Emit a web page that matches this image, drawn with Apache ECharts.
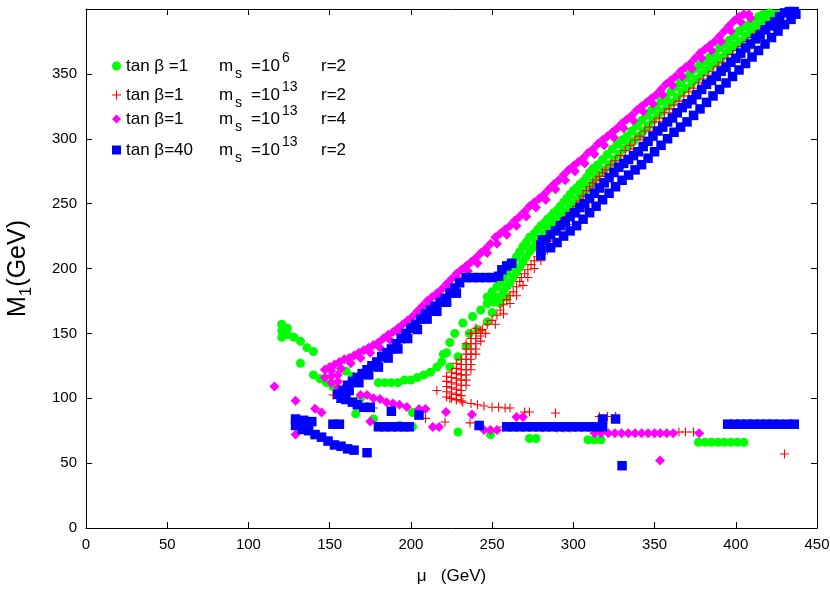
<!DOCTYPE html>
<html>
<head>
<meta charset="utf-8">
<script src="https://cdn.jsdelivr.net/npm/echarts@6/dist/echarts.min.js"></script>
<style>html,body{margin:0;padding:0;background:#fff}#c{width:830px;height:610px}</style>
</head>
<body>
<div id="c"></div>
<script>
// ---------- axis ticks ----------
const xTicks = [0, 50, 100, 150, 200, 250, 300, 350, 400, 450];
const yTicks = [0, 50, 100, 150, 200, 250, 300, 350, 400];

// ---------- series names ----------
const seriesNames = ['tb1_ms6_r2', 'tb1_ms13_r2', 'tb1_ms13_r4', 'tb40_ms13_r2'];

// ---------- green: tan b=1, m_s=10^6, r=2 ----------
const greenLow = [[120.5,157],[120.5,152],[120.5,147],[124,154],[124,149],[128,147],[132,144],[136,139],[140,136],[132,127],[140,118],[144,115],[148,112],[152,109],
[160,121],[164,117],[169,100],[166,88],[177,84],[193,79],[201,78],[201,89],[229,74],[249,72],[273,69],[277,69],[309,68],[313,68],[317,68],
[377,66],[381,66],[385,66],[389,66],[393,66],[397,66],[401,66],[405,66]];
const greenU = [[180,112],[184,112],[188,112],[192,112],[196,114],[200,114],[204,116],[208,118],[212,120],[216,124],[219,128],[220,134],[222,135],[224,143],[227,150],[232,158],[238,163],[243,168],[247,173],[250,178],
[224,124],[229,132],[234,140],[236,150],[241,153],[247,159],[250,166],[255,173],[259,178]];
const greenBandA = [[247,178],[250,182],[253,186],[255,190],[257,193],[259,197],[261,201],[263,205],[265,209],[267,213],[269,217],[271,220],[273,224],[276,227],[278,230],[280,233],[282,235],[284,238],[286,240],[288,243],[290,245],[292,248],[294,251],[296,254],[298,257],[300,260],[302,262],[304,265],[306,267],[308,270],[310,274],[312,277],[315,280],[318,284],[321,288],[324,292],[327,296],[330,299],[333,302],[336,306],[339,310],[342,314],[345,318],[348,322],[351,325],[354,329],[357,332],[360,336],[363,340],[366,343],[369,347],[372,350],[375,354],[378,357],[381,360],[384,363],[387,366],[390,370],[393,373],[396,376],[399,379],[402,383],[405,386],[408,388],[411,391],[414,394],[417,396],[421,397],[425,396],[426,389]];
const greenBandB = [[251,174],[254,178],[257,182],[259,186],[261,189],[263,193],[265,197],[267,201],[269,205],[271,209],[273,213],[275,216],[277,220],[280,223],[282,226],[284,229],[286,231],[288,234],[290,236],[292,239],[294,241],[296,244],[298,247],[300,250],[302,253],[304,256],[306,258],[308,261],[310,263],[312,266],[314,270],[316,273],[319,276],[322,280],[325,284],[328,288],[331,292],[334,295],[337,298],[340,302],[343,306],[346,310],[349,314],[352,318],[355,321],[358,325],[361,328],[364,332],[367,336],[370,339],[373,343],[376,346],[379,350],[382,353],[385,356],[388,359],[391,362],[394,366],[397,369],[400,372],[403,375],[406,379],[409,382],[412,384],[415,387],[418,390],[421,392]];

// ---------- red: tan b=1, m_s=10^13, r=2 ----------
const redGrid = [[216,106],
[222,101],[222,105],[222,109],[222,113],[222,117],
[225,100],[225,104],[225,108],[225,112],[225,116],[225,120],
[228,99],[228,103],[228,107],[228,111],[228,115],[228,119],[228,123],[228,127],
[231,98],[231,102],[231,106],[231,110],[231,114],[231,118],[231,122],[231,126],[231,130],
[234,110],[234,114],[234,118],[234,122],[234,126],[234,130],[234,134],[234,138],[234,142],
[237,122],[237,126],[237,130],[237,134],[237,138],[237,142],[237,146],[237,150],
[240,134],[240,138],[240,142],[240,146],[240,150],[240,154],
[243,144],[243,148],[243,152]];
const redTail = [[224,100],[228,98.7],[232,97],[237,96],[241,95],[245,94],[250,93],[254,93],[258,92.5],[261,92.5],[270,89.4],[273,89.4],[289,88.6],
[152,102.5],[177,92.5],[209,84.5],[221,81.7],[236.4,81],[257,77.8],[316,86],[321,86],[326,86],[290,77],[294,77],[298,77],[365,74],[369,74],[374,74],[430,57]];
const redBandA = [[244,153],[247,157],[250,160],[253,164],[255,168],[257,172],[259,176],[261,179],[263,182],[265,186],[267,190],[268,193],[270,196],[272,199],[274,203],[276,206],[278,209],[280,213],[282,217],[284,221],[286,224],[288,227],[290,231],[292,234],[294,237],[296,240],[298,243],[300,245],[302,248],[304,252],[306,256],[308,260],[310,263],[312,266],[314,268],[316,271],[318,274],[320,276],[323,280],[326,283],[329,287],[332,291],[335,295],[338,299],[341,302],[344,306],[347,309],[350,313],[353,316],[356,320],[359,323],[362,326],[365,329],[368,333],[371,336],[374,339],[377,343],[380,346],[383,349],[386,352],[389,356],[392,359],[395,362],[398,365],[401,368],[404,371],[407,375],[410,378],[413,381],[416,384],[419,387],[422,390],[425,393],[428,396]];
const redBandB = [[246,150],[252,157],[257,165],[261,173],[265,179],[269,187],[272,193],[276,200],[280,206],[284,214],[288,221],[292,228],[296,234],[300,240],[304,245],[308,253],[312,260],[316,265],[320,271],[325,277],[331,284],[337,292],[343,299],[349,306],[355,313],[361,320],[367,326],[373,333],[379,340],[385,346],[391,353],[397,359],[403,365],[409,372],[415,378],[421,384],[427,390]];

// ---------- magenta: tan b=1, m_s=10^13, r=4 ----------
const magentaBandA = [[147,122],[150,124],[153,126],[156,128],[159,130],[162,131],[165,133],[168,135],[171,137],[174,139],[177,141],[180,143],[183,146],[186,149],[189,151],[192,154],[195,157],[198,160],[201,163],[204,167],[207,171],[210,175],[213,178],[216,181],[219,184],[222,188],[225,192],[228,196],[231,199],[234,202],[237,205],[240,208],[243,212],[246,215],[249,219],[252,224],[255,227],[258,230],[261,233],[264,237],[267,240],[270,244],[273,248],[276,251],[279,254],[282,257],[285,261],[288,265],[291,268],[294,272],[297,276],[300,279],[303,282],[306,285],[309,289],[312,292],[315,296],[318,299],[321,302],[324,305],[327,308],[330,312],[333,315],[336,318],[339,322],[342,325],[345,328],[348,331],[351,334],[354,338],[357,342],[360,345],[363,348],[366,352],[369,355],[372,358],[375,362],[378,366],[381,369],[384,372],[387,375],[390,379],[393,383],[396,387],[399,391],[402,394],[405,396],[408,396]];
const magentaBandB = [[151,117],[157,123],[163,127],[169,131],[175,135],[181,139],[187,145],[193,150],[199,156],[205,164],[211,171],[217,177],[223,184],[229,192],[235,198],[241,204],[247,212],[253,219],[259,226],[265,233],[271,240],[277,247],[283,253],[289,261],[295,268],[301,275],[307,281],[313,288],[319,295],[325,301],[331,308],[337,314],[343,321],[349,327],[355,334],[361,341],[367,348],[373,354],[379,362],[385,368],[391,375],[397,383],[403,390],[409,393],
[147,116],[151,112],[155,118],[155,113],[155,108],[159,108],[151,121]];
const magentaLow = [[116,109],[129,98],[129,72],[141,92],[145,89],[169,102.5],[173,102.5],[177,100],[181,99.5],[185,97],[189,96],[193,95],[197.5,93.3],[205,91.7],[209,91.7],[221.6,89.4],[237.6,87.5],[213.5,77.8],[217.3,77.8],[245,75.5],[249,75.5],[253,75.5],[265,85.6],[269,85.6],[175,82],
[313,73],[317,73],[321.5,73],[325.6,73],[329.7,73],[333.8,73],[338,73],[342,73],[346,73],[350,73],[353.5,73],[357.5,73],[361.5,73],[377.5,73],[353.4,52]];

// ---------- blue: tan b=40, m_s=10^13, r=2 ----------
const blueLow = [[129,84],[134,83],[139,82],[129,79],[133,76],[137,75],[141,72],[145,70],[149,67],[153,64],[157,63],[161,61],[165,60],[173,58],
[152,80],[156,80],[188,90],[180,78],[184,78],[188,78],[192,78],[196,78],[199,78],[205,87],[242,79],
[259,78],[263,78],[267,78],[271,78],[275,78],[279,78],[283,78],[287,78],[291,78],[295,78],[299,78],[303,78],[307,78],[311,78],[315,78],[318,78],[318,84],[326,84],[330,48],
[395,80],[399,80],[403,80],[407,80],[411,80],[415,80],[419,80],[423,80],[427,80],[432,80],[436,80]];
const blueLeftBand = [[155,103],[157,100],[160,99],[164,97],[167,95],[171,93],[175,93],
[158,106],[161,110],[164,113],[167,116],[170,119],[173,122],[176,125],[179,128],[182,132],[185,135],[188,138],[191,142],[194,146],[197,150],[200,154],[203,157],[206,161],[209,165],[212,168],[215,171],[218,174],[221,177],[224,181],[227,185],[230,189],[234,193],[238,193],[242,193],[246,193],[250,193],[254,194],[256,199],[259,202],[262,204],
[162,106],[168,112],[174,118],[180,124],[186,131],[192,138],[198,146],[204,153],[210,161],[216,167],[222,174],[228,181],
[280,210],[280,214],[280,218],[281,222]];
const blueBandA = [[283,222],[286,226],[289,229],[292,233],[295,236],[298,240],[301,243],[304,247],[307,250],[310,254],[313,258],[316,262],[319,266],[322,270],[325,274],[328,278],[331,281],[334,284],[337,287],[340,290],[343,294],[346,298],[349,302],[352,306],[355,309],[358,313],[361,316],[364,320],[367,324],[370,327],[373,330],[376,334],[379,338],[382,342],[385,345],[388,348],[391,352],[394,355],[397,359],[400,362],[403,366],[406,370],[409,373],[412,377],[415,380],[418,384],[421,387],[424,390],[427,394],[430,397],[433,398],[436,398]];
const blueBandB = [[286,216],[290,220],[294,225],[298,229],[302,233],[306,238],[310,243],[314,248],[318,253],[322,258],[326,263],[330,268],[334,272],[338,276],[342,280],[346,285],[350,290],[354,295],[358,300],[362,305],[366,309],[370,313],[374,318],[378,323],[382,328],[386,333],[390,338],[394,343],[398,348],[402,353],[406,358],[410,363],[414,368],[418,373],[422,378],[426,383],[430,388],[434,392],[437,396]];

const greenPts = greenLow.concat(greenU, greenBandA, greenBandB);
const redPts = redGrid.concat(redTail, redBandA, redBandB);
const magentaPts = magentaBandA.concat(magentaBandB, magentaLow);
const bluePts = blueLow.concat(blueLeftBand, blueBandA, blueBandB);

const FONT = "'Liberation Sans', Arial, Helvetica, sans-serif";
const plusPath = 'path://M4.4,0H5.6V4.4H10V5.6H5.6V10H4.4V5.6H0V4.4H4.4Z';

const legendText = {
  'tb1_ms6_r2':  '{a|tan β =1}{m|m}{s|s}{e|=10}{p|6}{r|r=2}',
  'tb1_ms13_r2': '{a|tan β=1}{m|m}{s|s}{e|=10}{p|13}{r|r=2}',
  'tb1_ms13_r4': '{a|tan β=1}{m|m}{s|s}{e|=10}{p|13}{r|r=4}',
  'tb40_ms13_r2':'{a|tan β=40}{m|m}{s|s}{e|=10}{p|13}{r|r=2}'
};
const rich = {
  a: {fontSize: 17, width: 93, lineHeight: 30, fontFamily: FONT, color: '#000'},
  m: {fontSize: 17, width: 16, fontFamily: FONT, color: '#000'},
  s: {fontSize: 14, width: 16, verticalAlign: 'bottom', fontFamily: FONT, color: '#000'},
  e: {fontSize: 17, width: 31, fontFamily: FONT, color: '#000'},
  p: {fontSize: 14, width: 39, verticalAlign: 'top', fontFamily: FONT, color: '#000'},
  r: {fontSize: 17, fontFamily: FONT, color: '#000'}
};
const legendTops = [51, 80, 104, 135];
const legends = seriesNames.map((n, i) => ({
  data: [n], left: 112, top: legendTops[i], orient: 'vertical', padding: 0,
  itemWidth: 9, itemHeight: 9, itemGap: 0, selectedMode: false,
  formatter: name => legendText[name], textStyle: {rich: rich}
}));

function axisCommon() {
  return {
    axisLine: {show: true, onZero: false, lineStyle: {color: '#000', width: 1}},
    axisTick: {show: true, inside: true, length: 6, lineStyle: {color: '#000'}},
    splitLine: {show: false}
  };
}

const chart = echarts.init(document.getElementById('c'), null, {renderer: 'canvas'});
chart.setOption({
  animation: false,
  backgroundColor: '#fff',
  grid: {left: 86, right: 13, top: 9, bottom: 82, containLabel: false, outerBoundsMode: 'none'},
  legend: legends,
  xAxis: [
    Object.assign({type: 'value', min: xTicks[0], max: xTicks[xTicks.length-1], interval: 50, position: 'bottom',
      axisLabel: {fontSize: 15, color: '#000', fontFamily: FONT, margin: 9},
      name: '{mu|μ}{g|   (GeV)}', nameLocation: 'middle', nameGap: 40,
      nameTextStyle: {rich: {mu: {fontSize: 17, fontFamily: FONT, color: '#000'}, g: {fontSize: 17, fontFamily: FONT, color: '#000'}}}
    }, axisCommon()),
    Object.assign({type: 'value', min: xTicks[0], max: xTicks[xTicks.length-1], interval: 50, position: 'top',
      axisLabel: {show: false}}, axisCommon())
  ],
  yAxis: [
    Object.assign({type: 'value', min: yTicks[0], max: yTicks[yTicks.length-1], interval: 50, position: 'left',
      axisLabel: {fontSize: 15, color: '#000', fontFamily: FONT, margin: 9, formatter: v => (v === 400 ? '' : String(v))},
      name: '{m|M}{s|1}{g|(GeV)}', nameLocation: 'middle', nameGap: 51, nameRotate: 90,
      nameTextStyle: {rich: {
        m: {fontSize: 25, fontFamily: FONT, color: '#000', lineHeight: 34},
        s: {fontSize: 17, fontFamily: FONT, color: '#000', verticalAlign: 'bottom'},
        g: {fontSize: 25, fontFamily: FONT, color: '#000'}}}
    }, axisCommon()),
    Object.assign({type: 'value', min: yTicks[0], max: yTicks[yTicks.length-1], interval: 50, position: 'right',
      axisLabel: {show: false}}, axisCommon())
  ],
  series: [
    {name: seriesNames[0], type: 'scatter', data: greenPts, symbol: 'circle', symbolSize: 9,
     itemStyle: {color: '#00ff00', opacity: 1}, z: 2},
    {name: seriesNames[1], type: 'scatter', data: redPts, symbol: plusPath, symbolSize: 9,
     itemStyle: {color: '#ff0000', opacity: 1}, z: 3},
    {name: seriesNames[2], type: 'scatter', data: magentaPts, symbol: 'diamond', symbolSize: 10,
     itemStyle: {color: '#ff00ff', opacity: 1}, z: 4},
    {name: seriesNames[3], type: 'scatter', data: bluePts, symbol: 'rect', symbolSize: 9.5,
     itemStyle: {color: '#0000ff', opacity: 1}, z: 5}
  ]
});
</script>
</body>
</html>
